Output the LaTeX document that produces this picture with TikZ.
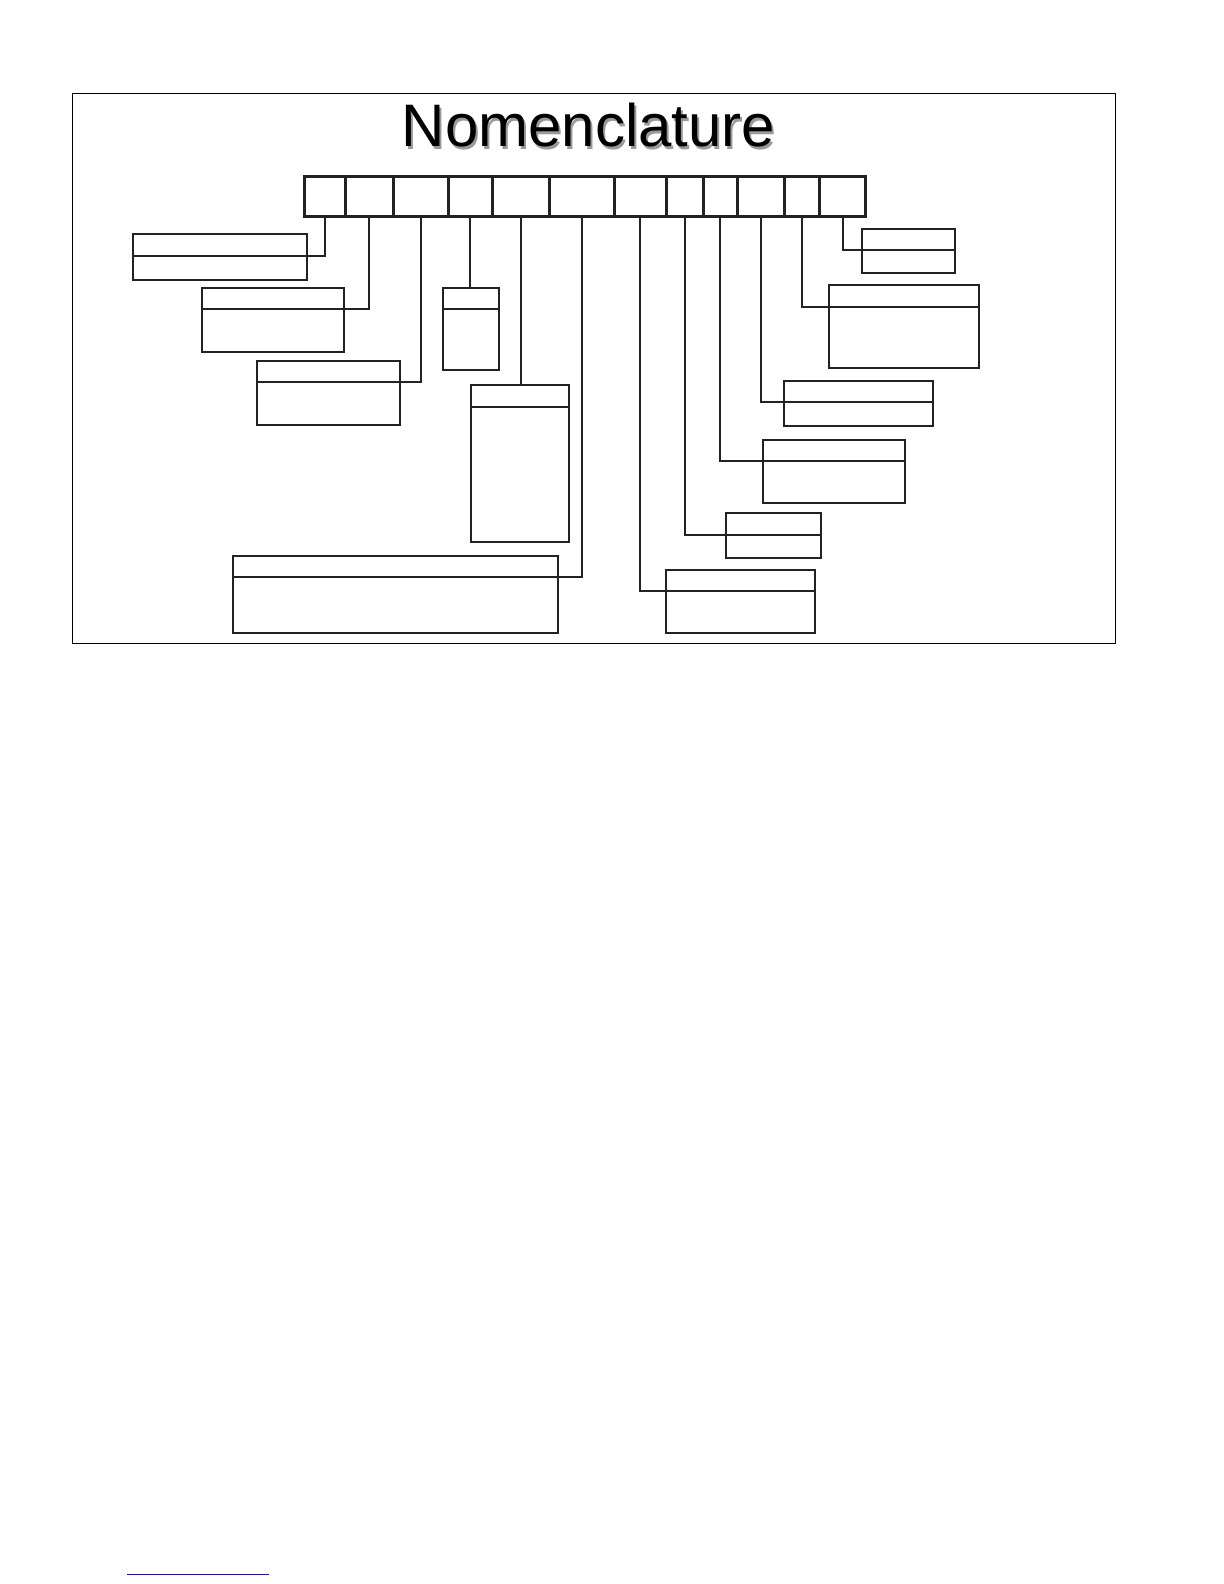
\documentclass[tikz,border=0pt]{standalone}
\usepackage{fontspec}
\newfontfamily\titlefont{Liberation Sans}
\usetikzlibrary{positioning}
\definecolor{inkgray}{HTML}{222222}
\definecolor{shadowgray}{HTML}{9A9A9A}
\definecolor{linkblue}{HTML}{1A1A8C}
\tikzset{
  cell/.style = {draw = inkgray, line width = 1.5pt, anchor = north west,
    inner sep = 0pt, outer sep = 0pt, minimum height = 20.25pt},
  fieldhead/.style = {draw = inkgray, line width = 1pt, anchor = north west,
    inner sep = 0pt, outer sep = 0pt},
  fieldbody/.style = {draw = inkgray, line width = 1pt,
    inner sep = 0pt, outer sep = 0pt},
  leader/.style = {-, draw = inkgray, line width = 1pt},
}
\begin{document}
\begin{tikzpicture}[x = 0.5pt, y = -0.5pt]
      \useasboundingbox (0, 0) rectangle (1224, 1584);

      % frame
      % -----
      \draw [-, line width = 0.5pt] (72, 94) rectangle (1115, 643);

      % title
      % -----
      \node [anchor = base, text = shadowgray, font = \titlefont\fontsize{30}{30}\selectfont]
        (titleshadow) at (590.5, 149.5) {Nomenclature};
      \node [anchor = base, text = black, font = \titlefont\fontsize{30}{30}\selectfont]
        (title) at (588.5, 147) {Nomenclature};

      % code row
      % --------
      \node [cell, minimum width = 20.25pt] (c1)  at (304.5, 176) {};
      \node [cell, minimum width = 24.25pt] (c2)  at (345.0, 176) {};
      \node [cell, minimum width = 27.25pt] (c3)  at (393.5, 176) {};
      \node [cell, minimum width = 22.20pt] (c4)  at (448.0, 176) {};
      \node [cell, minimum width = 28.30pt] (c5)  at (492.4, 176) {};
      \node [cell, minimum width = 32.75pt] (c6)  at (549.0, 176) {};
      \node [cell, minimum width = 25.75pt] (c7)  at (614.5, 176) {};
      \node [cell, minimum width = 18.50pt] (c8)  at (666.0, 176) {};
      \node [cell, minimum width = 17.30pt] (c9)  at (703.0, 176) {};
      \node [cell, minimum width = 23.20pt] (c10) at (737.6, 176) {};
      \node [cell, minimum width = 17.65pt] (c11) at (784.0, 176) {};
      \node [cell, minimum width = 23.20pt] (c12) at (819.3, 176) {};

      % fields, left side
      % -----------------
      \node [fieldhead, minimum width = 87.3pt, minimum height = 10.7pt] (f1) at (132.7, 234.3) {};
      \node [fieldbody, minimum width = 87.3pt, minimum height = 12.15pt, below = 0pt of f1] (f1body) {};
      \node [fieldhead, minimum width = 71.0pt, minimum height = 10.65pt] (f2) at (202.0, 288.0) {};
      \node [fieldbody, minimum width = 71.0pt, minimum height = 21.35pt, below = 0pt of f2] (f2body) {};
      \node [fieldhead, minimum width = 71.5pt, minimum height = 10.5pt] (f3) at (257.0, 360.7) {};
      \node [fieldbody, minimum width = 71.5pt, minimum height = 21.65pt, below = 0pt of f3] (f3body) {};
      \node [fieldhead, minimum width = 28.0pt, minimum height = 10.35pt] (f4) at (443.0, 288.0) {};
      \node [fieldbody, minimum width = 28.0pt, minimum height = 30.65pt, below = 0pt of f4] (f4body) {};
      \node [fieldhead, minimum width = 49.15pt, minimum height = 11.0pt] (f5) at (470.7, 384.5) {};
      \node [fieldbody, minimum width = 49.15pt, minimum height = 67.75pt, below = 0pt of f5] (f5body) {};
      \node [fieldhead, minimum width = 162.8pt, minimum height = 10.5pt] (f6) at (232.7, 555.7) {};
      \node [fieldbody, minimum width = 162.8pt, minimum height = 28.15pt, below = 0pt of f6] (f6body) {};

      % fields, right side
      % ------------------
      \node [fieldhead, minimum width = 74.65pt, minimum height = 10.65pt] (f7) at (665.7, 569.7) {};
      \node [fieldbody, minimum width = 74.65pt, minimum height = 20.85pt, below = 0pt of f7] (f7body) {};
      \node [fieldhead, minimum width = 47.65pt, minimum height = 11.15pt] (f8) at (725.7, 512.7) {};
      \node [fieldbody, minimum width = 47.65pt, minimum height = 11.35pt, below = 0pt of f8] (f8body) {};
      \node [fieldhead, minimum width = 71.15pt, minimum height = 10.35pt] (f9) at (762.7, 440.0) {};
      \node [fieldbody, minimum width = 71.15pt, minimum height = 21.0pt, below = 0pt of f9] (f9body) {};
      \node [fieldhead, minimum width = 74.5pt, minimum height = 10.65pt] (f10) at (784.3, 380.7) {};
      \node [fieldbody, minimum width = 74.5pt, minimum height = 12.0pt, below = 0pt of f10] (f10body) {};
      \node [fieldhead, minimum width = 75.3pt, minimum height = 10.85pt] (f11) at (828.7, 285.0) {};
      \node [fieldbody, minimum width = 75.3pt, minimum height = 30.5pt, below = 0pt of f11] (f11body) {};
      \node [fieldhead, minimum width = 46.5pt, minimum height = 10.5pt] (f12) at (862.3, 229.0) {};
      \node [fieldbody, minimum width = 46.5pt, minimum height = 11.35pt, below = 0pt of f12] (f12body) {};

      % leaders
      % -------
      \draw [leader] (c1.south) |- (f1.south east);
      \draw [leader] (c2.south) |- (f2.south east);
      \draw [leader] (c3.south) |- (f3.south east);
      \draw [leader] (c4.south) -- (c4.south |- f4.north);
      \draw [leader] (c5.south) -- (c5.south |- f5.north);
      \draw [leader] (c6.south) |- (f6.south east);
      \draw [leader] (c7.south) |- (f7.south west);
      \draw [leader] (c8.south) |- (f8.south west);
      \draw [leader] (c9.south) |- (f9.south west);
      \draw [leader] (c10.south) |- (f10.south west);
      \draw [leader] (c11.south) |- (f11.south west);
      \draw [leader] (c12.south) |- (f12.south west);

      % footer rule
      % -----------
      \draw [-, draw = linkblue, line width = 0.6pt] (127.3, 1574.7) -- (268.7, 1574.7);
\end{tikzpicture}
\end{document}
